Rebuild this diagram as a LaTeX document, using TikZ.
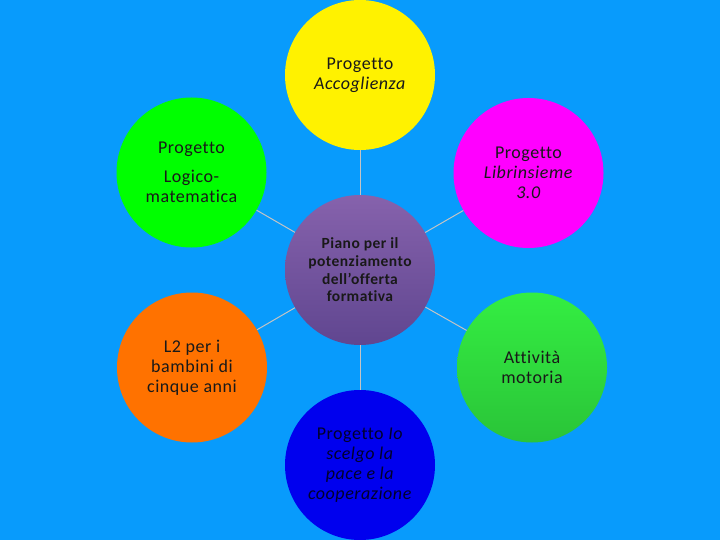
\documentclass[tikz,border=0pt]{standalone}
\usepackage{fontspec}
\setmainfont[Ligatures=NoCommon,LetterSpace=3]{Carlito}
\definecolor{bgblue}{RGB}{8,155,252}
\definecolor{ptop}{RGB}{134,98,172}
\definecolor{pbot}{RGB}{96,70,144}
\definecolor{gtop}{RGB}{52,238,66}
\definecolor{gbot}{RGB}{42,196,56}
\definecolor{orng}{RGB}{255,114,0}
\definecolor{dblue}{RGB}{0,0,238}
\definecolor{conncol}{RGB}{196,196,196}
\definecolor{navytext}{RGB}{0,0,45}
\begin{document}
\begin{tikzpicture}[x=1pt,y=-1pt,
  bubble/.style={circle,minimum size=150pt,inner sep=0pt,align=center,
    font=\fontsize{18}{20}\selectfont,text=black!90},
  conn/.style={draw=conncol,line width=1pt}]
\fill[bgblue] (0,0) rectangle (720,540);
\useasboundingbox (0,0) rectangle (720,540);
\node[bubble,fill=yellow] (acc) at (360,75) {Progetto\\\textit{Accoglienza}};
\node[bubble,fill={rgb,255:red,0;green,255;blue,0}] (log) at (191.5,172.5) {Progetto\\[9pt]Logico-\\matematica};
\node[bubble,fill={rgb,255:red,255;green,0;blue,255}] (lib) at (528.5,173) {Progetto\\\textit{Librinsieme}\\\textit{3.0}};
\node[bubble,top color=ptop,bottom color=pbot,font=\fontsize{15.5}{17.7}\selectfont\bfseries] (pof) at (360,270) {Piano per il\\potenziamento\\dell’offerta\\formativa};
\node[bubble,fill=orng] (l2) at (192,367.5) {L2 per i\\bambini di\\cinque anni};
\node[bubble,top color=gtop,bottom color=gbot] (mot) at (532,367.5) {Attività\\motoria};
\node[bubble,fill=dblue,text=navytext] (pace) at (360,465) {Progetto \textit{Io}\\\textit{scelgo la}\\\textit{pace e la}\\\textit{cooperazione}};
\draw[conn] (pof) -- (acc);
\draw[conn] (pof) -- (log);
\draw[conn] (pof) -- (lib);
\draw[conn] (pof) -- (l2);
\draw[conn] (pof) -- (mot);
\draw[conn] (pof) -- (pace);
\end{tikzpicture}
\end{document}
